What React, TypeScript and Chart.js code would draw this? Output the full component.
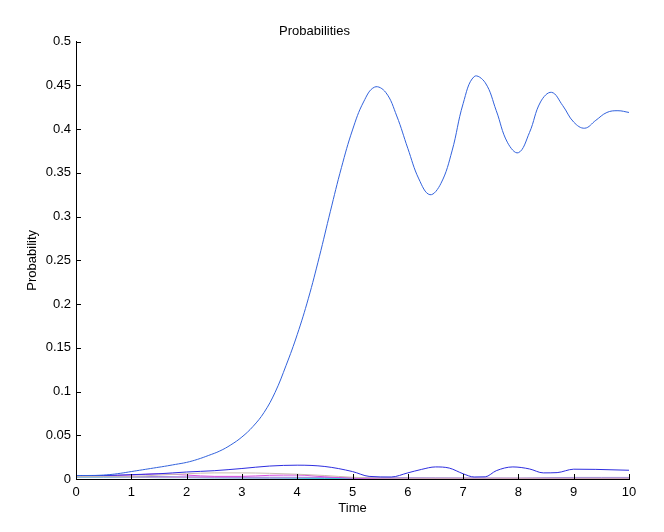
import React, { useEffect, useRef } from "react";
import { Chart, registerables } from "chart.js";

Chart.register(...registerables);

const chartTitle = "Probabilities";
const xTitle = "Time";
const yTitle = "Probability";

// main (dominant) state, sampled every 0.2 time units
const mainTimes = [0, 0.2, 0.4, 0.6, 0.8, 1, 1.2, 1.4, 1.6, 1.8, 2, 2.2, 2.4, 2.6, 2.8, 3, 3.2, 3.4, 3.6, 3.8, 4, 4.2, 4.4, 4.6, 4.8, 5, 5.2, 5.4, 5.6, 5.8, 6, 6.2, 6.4, 6.6, 6.8, 7, 7.2, 7.4, 7.6, 7.8, 8, 8.2, 8.4, 8.6, 8.8, 9, 9.2, 9.4, 9.6, 9.8, 10];
const mainProb = [0.004, 0.004, 0.0042, 0.005, 0.0065, 0.0085, 0.0105, 0.0125, 0.0145, 0.0167, 0.019, 0.0225, 0.027, 0.032, 0.039, 0.048, 0.06, 0.076, 0.099, 0.13, 0.165, 0.206, 0.254, 0.306, 0.356, 0.399, 0.431, 0.448, 0.442, 0.415, 0.378, 0.343, 0.325, 0.338, 0.375, 0.429, 0.46, 0.453, 0.421, 0.385, 0.373, 0.396, 0.431, 0.442, 0.427, 0.408, 0.401, 0.41, 0.419, 0.421, 0.419];

// second state
const secondTimes = [0, 0.5, 1, 1.5, 2, 2.5, 3, 3.5, 4, 4.5, 5, 5.3, 5.7, 6, 6.25, 6.5, 6.75, 7, 7.2, 7.4, 7.6, 7.9, 8.2, 8.45, 8.7, 9, 9.4, 10];
const secondProb = [0.004, 0.004, 0.005, 0.006, 0.008, 0.0095, 0.012, 0.0148, 0.0158, 0.0143, 0.0085, 0.003, 0.0023, 0.007, 0.011, 0.0138, 0.0125, 0.006, 0.0023, 0.0025, 0.0095, 0.0138, 0.0115, 0.007, 0.0073, 0.0112, 0.011, 0.01];

// minor states
const minorTimes = [0, 0.5, 1, 1.5, 2, 2.5, 3, 3.5, 4, 4.5, 5, 5.5, 6, 6.5, 7, 7.5, 8, 8.5, 9, 9.5, 10];
const tanProb = [0.003, 0.003, 0.003, 0.0045, 0.006, 0.007, 0.007, 0.0065, 0.0055, 0.004, 0.002, 0.001, 0.0008, 0.0008, 0.0008, 0.0008, 0.0008, 0.0008, 0.0008, 0.0008, 0.0008];
const magentaProb = [0.0035, 0.0038, 0.0045, 0.006, 0.0045, 0.003, 0.003, 0.0042, 0.0045, 0.0025, 0.001, 0.0005, 0.0005, 0.0005, 0.0005, 0.0005, 0.0005, 0.0005, 0.0005, 0.0005, 0.0005];
const lavenderProb = [0.003, 0.003, 0.003, 0.0028, 0.0025, 0.0022, 0.002, 0.002, 0.002, 0.0018, 0.0015, 0.0015, 0.0015, 0.0013, 0.0012, 0.0011, 0.001, 0.0015, 0.0018, 0.0018, 0.0018];
const cyanProb = [0.002, 0.002, 0.002, 0.0015, 0.0015, 0.0012, 0.001, 0.0008, 0.0007, 0.0006, 0.0005, 0.0004, 0.0004, 0.0003, 0.0003, 0.0003, 0.0003, 0.0003, 0.0003, 0.0003, 0.0003];
const pinkProb = [0.0025, 0.0025, 0.0022, 0.002, 0.0018, 0.0015, 0.0013, 0.0012, 0.0015, 0.002, 0.0015, 0.001, 0.001, 0.001, 0.001, 0.001, 0.001, 0.001, 0.001, 0.001, 0.001];

const FONT = "'Liberation Sans', Arial, Helvetica, sans-serif";

function pts(t: number[], v: number[]) {
  return t.map((x, i) => ({ x, y: v[i] }));
}

const inwardTicks = {
  id: "inwardTicks",
  afterDraw(chart: any) {
    const ctx = chart.ctx;
    const xs = chart.scales.x;
    const ys = chart.scales.y;
    const area = chart.chartArea;
    ctx.save();
    ctx.strokeStyle = "#000";
    ctx.lineWidth = 1;
    ctx.beginPath();
    xs.ticks.forEach((t: any) => {
      const px = Math.round(xs.getPixelForValue(t.value)) + 0.5;
      ctx.moveTo(px, area.bottom);
      ctx.lineTo(px, area.bottom - 5);
    });
    ys.ticks.forEach((t: any) => {
      const py = Math.round(ys.getPixelForValue(t.value)) + 0.5;
      ctx.moveTo(area.left, py);
      ctx.lineTo(area.left + 5, py);
    });
    ctx.stroke();
    ctx.restore();
  },
};

export default function App() {
  const ref = useRef<HTMLCanvasElement | null>(null);
  useEffect(() => {
    if (!ref.current) return;
    const line = (label: string, t: number[], v: number[], color: string, smooth: boolean) => ({
      label,
      data: pts(t, v),
      borderColor: color,
      backgroundColor: color,
      borderWidth: 1,
      pointRadius: 0,
      fill: false,
      tension: 0.4,
      cubicInterpolationMode: (smooth ? "default" : "monotone") as any,
    });
    const chart = new Chart(ref.current, {
      type: "line",
      data: {
        datasets: [
          line("Main", mainTimes, mainProb, "#3262dc", true),
          line("Second", secondTimes, secondProb, "#2d2ddf", false),
          line("Tan", minorTimes, tanProb, "#cbbcb0", false),
          line("Magenta", minorTimes, magentaProb, "#d84ee0", false),
          line("Lavender", minorTimes, lavenderProb, "#9c86e0", false),
          line("Pink", minorTimes, pinkProb, "#e69ad0", false),
          line("Cyan", minorTimes, cyanProb, "#3cc8dc", false),
        ],
      },
      plugins: [inwardTicks],
      options: {
        responsive: false,
        animation: false,
        layout: { padding: { left: 0, right: 35, top: 0, bottom: 0 } },
        plugins: {
          legend: { display: false },
          tooltip: { enabled: false },
          title: {
            display: true,
            text: chartTitle,
            color: "#000",
            font: { family: FONT, size: 13, weight: "normal" },
            padding: { top: 24, bottom: 2 },
          },
        },
        scales: {
          x: {
            type: "linear",
            min: 0,
            max: 10,
            ticks: {
              stepSize: 1,
              color: "#000",
              font: { family: FONT, size: 13 },
              padding: 6,
              maxRotation: 0,
            },
            grid: { display: false, drawTicks: false },
            border: { display: true, color: "#000", width: 1 },
            title: {
              display: true,
              text: xTitle,
              color: "#000",
              font: { family: FONT, size: 13 },
              padding: { top: 4, bottom: 16 },
            },
            afterFit: (s: any) => {
              s.height = 53;
            },
          },
          y: {
            type: "linear",
            min: 0,
            max: 0.5,
            ticks: {
              stepSize: 0.05,
              color: "#000",
              font: { family: FONT, size: 13 },
              padding: 5,
              callback: (v: any) => String(Number(Number(v).toFixed(2))),
            },
            grid: { display: false, drawTicks: false },
            border: { display: true, color: "#000", width: 1 },
            title: {
              display: true,
              text: yTitle,
              color: "#000",
              font: { family: FONT, size: 13 },
              padding: { top: 25, bottom: 0 },
            },
            afterFit: (s: any) => {
              s.width = 76;
            },
          },
        },
      },
    });
    return () => chart.destroy();
  }, []);
  return (
    <div style={{ position: "fixed", left: 0, top: 0, width: 664, height: 532, background: "#fff" }}>
      <canvas ref={ref} width={664} height={532} style={{ display: "block" }} />
    </div>
  );
}
